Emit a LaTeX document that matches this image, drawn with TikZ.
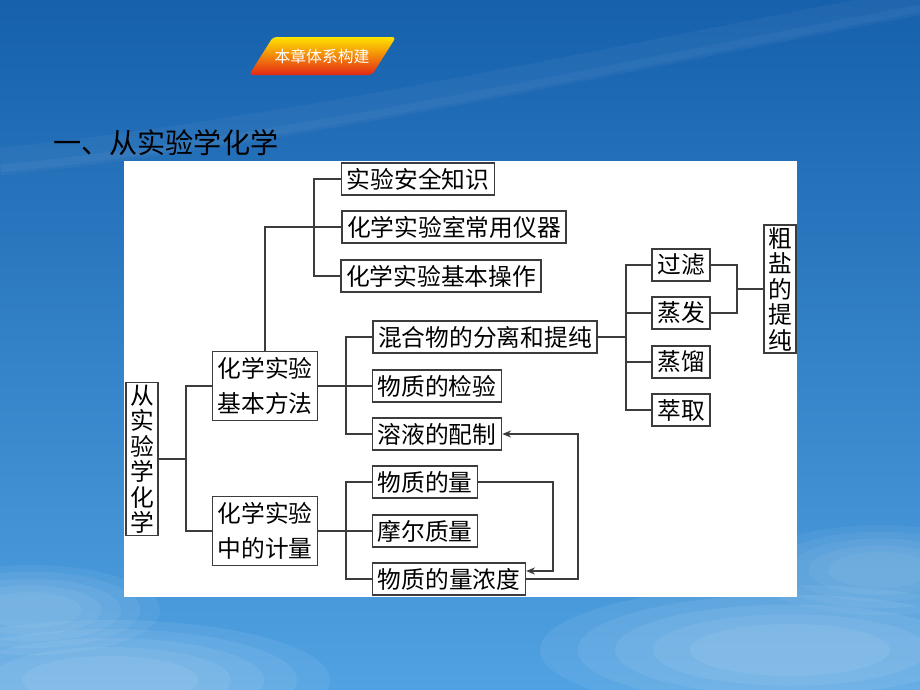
\documentclass[tikz,border=0pt]{standalone}
\usepackage{fontspec}
\usepackage{tikz}
\usetikzlibrary{positioning, arrows.meta, calc}
\usepackage{xcolor}
\newfontfamily\cjk{Noto Sans CJK SC}

\definecolor{skytop}{RGB}{22,96,172}
\definecolor{skymid}{RGB}{38,130,206}
\definecolor{skylow}{RGB}{80,162,226}
\definecolor{linegray}{RGB}{60,60,60}
\definecolor{bannerred}{RGB}{228,40,22}
\definecolor{banneryellow}{RGB}{255,228,0}

\tikzset{
  box/.style={draw=linegray, line width=0.8pt, fill=white, inner xsep=3pt, inner ysep=0pt,
    minimum height=18pt, font=\cjk\fontsize{13.5}{14.5}\selectfont},
  twobox/.style={box, align=center, minimum height=39pt, font=\cjk\fontsize{13.5}{19.8}\selectfont},
  colbox/.style={box, align=center, text width=13.5pt, inner xsep=2.3pt},
  link/.style={draw=linegray, line width=0.7pt},
  arr/.style={link, -{Stealth[length=5pt,width=4pt]}}
}

\begin{document}
\begin{tikzpicture}[x=0.02cm,y=-0.02cm]
    \path[use as bounding box] (0,0) rectangle (920,690);
    \clip (0,0) rectangle (920,690);

    % sky
    \shade[top color=skytop, middle color=skymid, bottom color=skylow] (0,0) rectangle (920,690);
    \draw[white, opacity=0.04, line width=14pt] (0,160) .. controls (300,130) and (650,50) .. (920,0);
    \draw[white, opacity=0.04, line width=6pt] (0,170) .. controls (300,140) and (650,60) .. (920,10);

    % clouds
    \foreach \s in {1.0, 0.85, 0.7, 0.55, 0.4} {
      \fill[white, opacity=0.07] (110,680) ellipse ({220*\s} and {60*\s});
      \fill[white, opacity=0.06] (30,610) ellipse ({130*\s} and {45*\s});
      \fill[white, opacity=0.07] (790,650) ellipse ({250*\s} and {65*\s});
      \fill[white, opacity=0.05] (880,570) ellipse ({130*\s} and {45*\s});
    }

    % banner
    \shade[top color=banneryellow, bottom color=bannerred, rounded corners=2pt]
      (273,37) -- (396,37) -- (372,75) -- (249,75) -- cycle;
    \node[text=white, font=\cjk\fontsize{9}{9}\selectfont] (banner) at (322,56) {本章体系构建};

    % title
    \node[anchor=west, inner sep=0pt, font=\cjk\fontsize{16}{16}\selectfont] (title) at (53,143) {一、从实验学化学};

    % panel
    \fill[white] (124,161) rectangle (797,597);

    % nodes
    \node[colbox, minimum height=86.8pt] (root) at (142,459) {从\\实\\验\\学\\化\\学};
    \node[twobox] (method) at (265,386) {化学实验\\基本方法};
    \node[twobox] (measure) at (265,531) {化学实验\\中的计量};

    \node[box] (safety) at (418,179) {实验安全知识};
    \node[box] (instr) at (454,227) {化学实验室常用仪器};
    \node[box] (operate) at (441,276) {化学实验基本操作};

    \node[box] (mix) at (485,337) {混合物的分离和提纯};
    \node[box] (test) at (437,386) {物质的检验};
    \node[box] (solution) at (437,434) {溶液的配制};

    \node[box] (amount) at (425,482) {物质的量};
    \node[box] (molar) at (425,531) {摩尔质量};
    \node[box] (conc) at (449,579) {物质的量浓度};

    \node[box] (filter) at (681,265) {过滤};
    \node[box] (evap) at (681,313) {蒸发};
    \node[box] (distil) at (681,362) {蒸馏};
    \node[box] (extract) at (681,410) {萃取};
    \node[colbox, minimum height=73pt] (salt) at (780,289) {粗\\盐\\的\\提\\纯};

    % forks
    \coordinate (forkA) at (186,459);
    \coordinate (forkB) at (314,227);
    \coordinate (forkC) at (346,386);
    \coordinate (forkD) at (346,531);
    \coordinate (forkE) at (626,337);
    \coordinate (forkF) at (737,289);
    \coordinate (bendA) at (553,571);
    \coordinate (bendB) at (578,434);

    % connectors
    \draw[link] (root.east) -- (forkA);
    \draw[link] (method.west) -| (forkA) |- (measure.west);

    \draw[link] (method.north) |- (instr.west);
    \draw[link] (safety.west) -| (forkB) |- (operate.west);

    \draw[link] (method.east) -- (test.west);
    \draw[link] (mix.west) -| (forkC) |- (solution.west);

    \draw[link] (measure.east) -- (molar.west);
    \draw[link] (amount.west) -| (forkD) |- (conc.west);

    \draw[link] (mix.east) -- (forkE);
    \draw[link] (filter.west) -| (forkE) |- (extract.west);
    \draw[link] (evap.west) -- (evap.west -| forkE);
    \draw[link] (distil.west) -- (distil.west -| forkE);

    \draw[link] (filter.east) -| (forkF) |- (evap.east);
    \draw[link] (forkF) -- (salt.west);

    \draw[arr] (amount.east) -| (bendA) -- (conc.east |- bendA);
    \draw[arr] (conc.east) -| (bendB) -- (solution.east);

\end{tikzpicture}
\end{document}
